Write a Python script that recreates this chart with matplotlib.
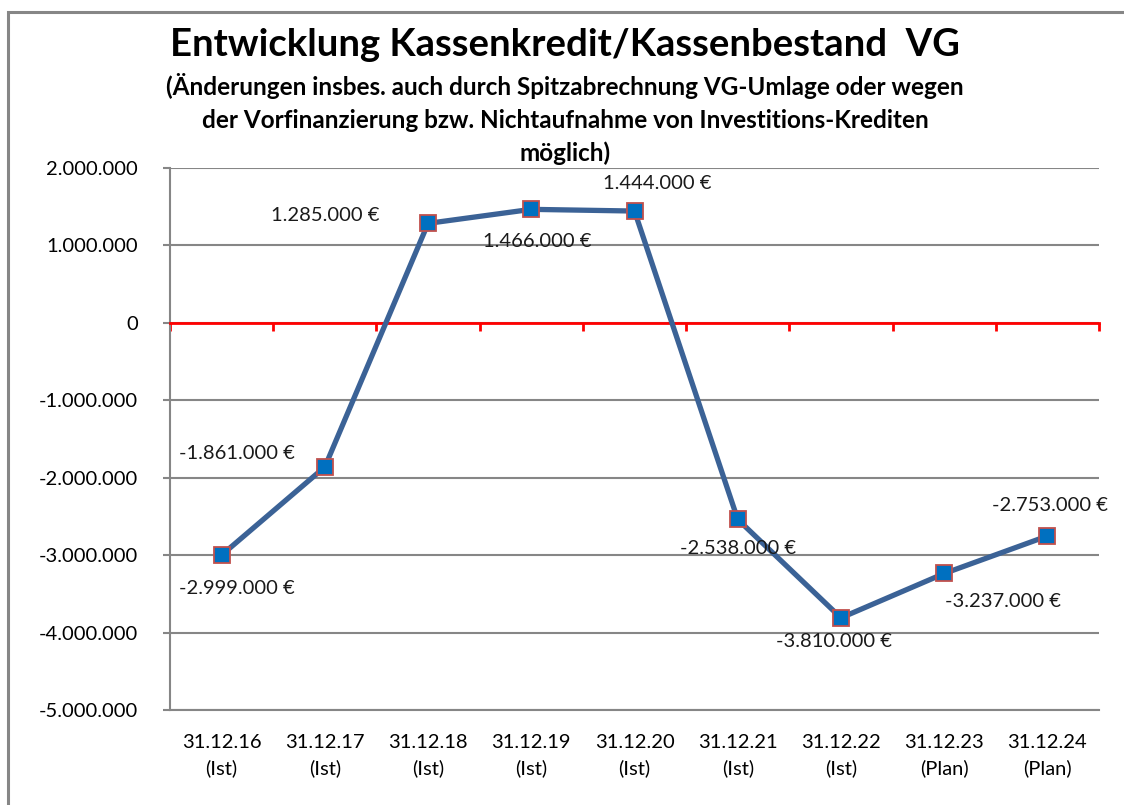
import matplotlib.pyplot as plt
from matplotlib.patches import Rectangle

# Daten
stichtage = ["31.12.16\n(Ist)", "31.12.17\n(Ist)", "31.12.18\n(Ist)", "31.12.19\n(Ist)",
             "31.12.20\n(Ist)", "31.12.21\n(Ist)", "31.12.22\n(Ist)", "31.12.23\n(Plan)",
             "31.12.24\n(Plan)"]
bestand = [-2999000, -1861000, 1285000, 1466000, 1444000, -2538000, -3810000, -3237000, -2753000]
# Lage der Beschriftungen (Pixel-Versatz zum Punkt)
label_offsets = [(15, -33), (-88, 13), (-103, 8), (6, -32), (23, 28), (0, -29), (-7, -24), (59, -28), (3, 31)]

plt.rcParams["font.family"] = ["Lato", "DejaVu Sans"]

fig = plt.figure(figsize=(11.24, 8.05), dpi=100)
ax = fig.add_axes([170 / 1124, 1 - 710 / 805, (1099 - 170) / 1124, (710 - 168) / 805])

x = list(range(len(bestand)))
ax.plot(x, bestand, color="#3B6296", lw=3.8, marker="s", markersize=11,
        markerfacecolor="#0070C0", markeredgecolor="#C0504D", markeredgewidth=1.3, zorder=5)

def fmt(v):
    return "{:,.0f}".format(v).replace(",", ".") + " €"

for i, v in enumerate(bestand):
    ax.annotate(fmt(v), (i, v), xytext=label_offsets[i], textcoords="offset pixels",
                ha="center", va="center", fontsize=14.5, color="#1a1a1a", zorder=6)

ax.set_xlim(-0.5, len(bestand) - 0.5)
ax.set_ylim(-5000000, 2000000)
ax.set_yticks(range(-5000000, 2000001, 1000000))
ax.set_yticklabels([fmt(t)[:-2] if t != 0 else "0" for t in range(-5000000, 2000001, 1000000)])
ax.tick_params(axis="y", length=5, width=1.5, color="#868686", labelsize=14.5, pad=18)
ax.grid(axis="y", color="#868686", lw=1.5)
ax.set_axisbelow(True)

# Nulllinie (rot) mit Teilstrichen
ax.spines["bottom"].set_position(("data", 0))
ax.spines["bottom"].set_color("red")
ax.spines["bottom"].set_linewidth(2)
ax.spines["bottom"].set_zorder(4)
ax.set_xticks([i - 0.5 for i in range(len(bestand) + 1)])
ax.set_xticklabels([])
ax.tick_params(axis="x", direction="out", length=6, width=2, color="red")
for s in ["top", "right"]:
    ax.spines[s].set_visible(False)
ax.spines["left"].set_color("#868686")
ax.spines["left"].set_linewidth(1.5)

sec = ax.secondary_xaxis(0.0)
sec.set_xticks(x)
sec.set_xticklabels(stichtage, fontsize=14.5)
for t in sec.get_xticklabels():
    t.set_linespacing(1.55)
sec.tick_params(length=0, pad=17)
sec.spines["bottom"].set_color("#868686")
sec.spines["bottom"].set_linewidth(1.5)

fig.text(565 / 1124, 1 - 45 / 805, "Entwicklung Kassenkredit/Kassenbestand  VG",
         ha="center", va="center", fontsize=27.5, fontweight="bold")
fig.text(565 / 1124, 1 - 119 / 805,
         "(Änderungen insbes. auch durch Spitzabrechnung VG-Umlage oder wegen\n"
         "der Vorfinanzierung bzw. Nichtaufnahme von Investitions-Krediten\nmöglich)",
         ha="center", va="center", fontsize=17.5, fontweight="bold", linespacing=1.52)

fig.patches.append(Rectangle((8 / 1124, -0.1), 1.2, 1 - 12 / 805 + 0.1, transform=fig.transFigure,
                             fill=False, edgecolor="#868686", lw=2.2))

fig.savefig("out.png", dpi=100)
